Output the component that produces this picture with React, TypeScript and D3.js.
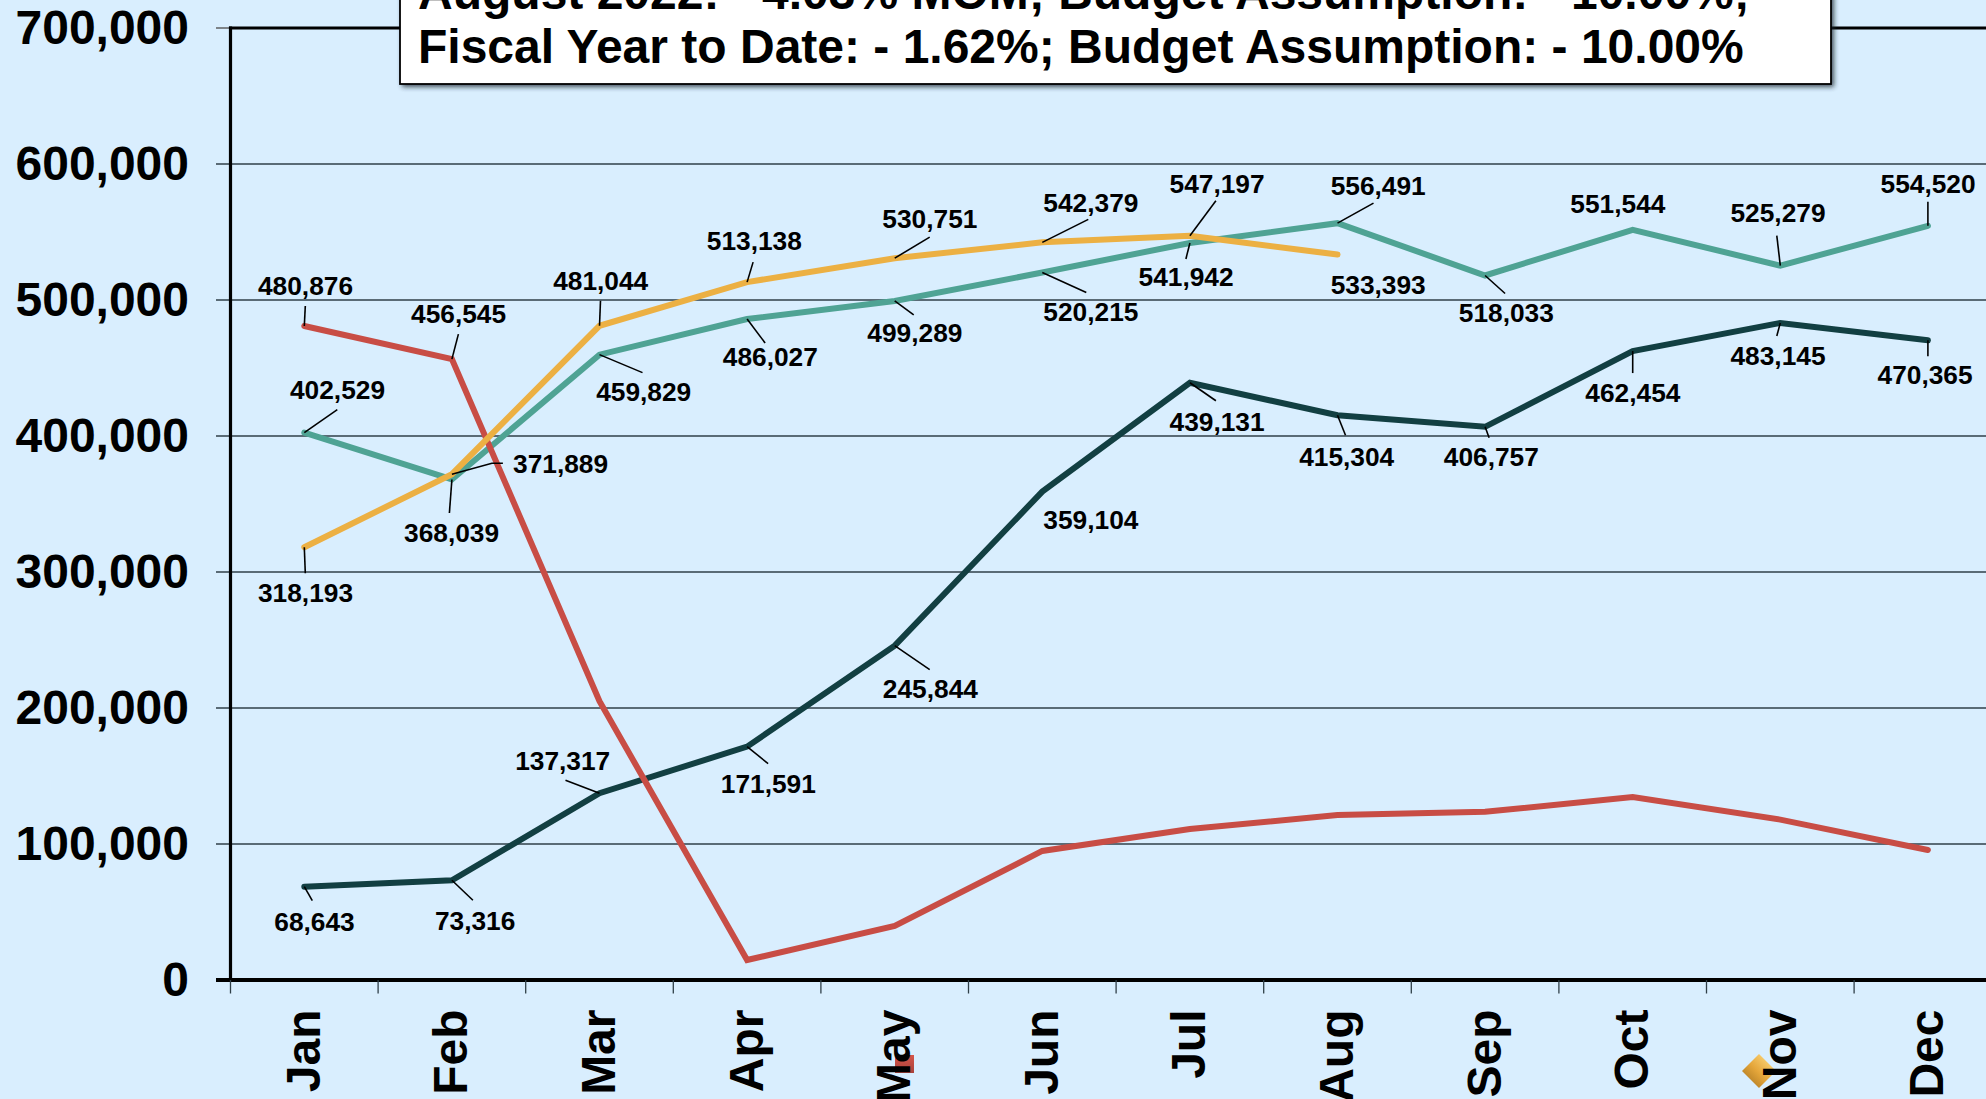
import React from "react";
import * as d3 from "d3";

const months = ["Jan","Feb","Mar","Apr","May","Jun","Jul","Aug","Sep","Oct","Nov","Dec"];
const yTicks = [0,100000,200000,300000,400000,500000,600000,700000];
const redValues = [480876,456545,205000,14700,39700,94900,111000,121300,123700,134500,117900,95600];
const tealValues = [402529,368039,459829,486027,499289,520215,541942,556491,518033,551544,525279,554520];
const goldValues = [318193,371889,481044,513138,530751,542379,547197,533393];
const darkValues = [68643,73316,137317,171591,245844,359104,439131,415304,406757,462454,483145,470365];
const boxLines = ["August 2022: - 4.03% MOM; Budget Assumption: - 10.00%;","Fiscal Year to Date: - 1.62%; Budget Assumption: - 10.00%"];

// label placement relative to the data point: [text dx, text dy, leader dx, leader dy, optional elbow dx, dy]
const redLabelOffsets: (number[] | null)[] = [[0,-39,1,-20],[5.5,-44,6.5,-25]];
const tealLabelOffsets: (number[] | null)[] = [[32,-41.6,33,-23],[-1.5,54.5,-2.5,33.5],[43,38,43,18],[22,39,18,24],[19,33,19,14],[47.4,40,44,20],[-5,35,-4,16],[39.5,-36,36,-20],[20,38.5,20,18],[-16,-25],[-3.5,-51.6,-3.5,-30],[-1,-41,0,-24]];
const goldLabelOffsets: (number[] | null)[] = [[0,47,1,26],[107.5,-9,51,-11,40,-11],[0,-44,1,-25],[6,-40.6,6,-20],[34,-38,35,-21],[47.4,-38.7,46,-23],[26,-51,26,-35],[39.5,31]];
const darkLabelOffsets: (number[] | null)[] = [[9,36,8,14],[22,41.6,21,20],[-38,-31,-34,-13],[20,38,21,17],[34.5,44,35,24],[47.4,29],[26,40,26,18],[8,43,8,20],[5,31,4,11],[-1,42.6,0,22],[-3.5,34,-3.5,13],[-4,36,0,16]];

const seriesList = [
  { values: tealValues, color: "#4fa394", offsets: tealLabelOffsets },
  { values: darkValues, color: "#123f42", offsets: darkLabelOffsets },
  { values: redValues, color: "#c84d45", offsets: redLabelOffsets },
  { values: goldValues, color: "#ecb043", offsets: goldLabelOffsets },
];

const W = 1986, H = 1099;
const FONT = "'Liberation Sans', Arial, sans-serif";
const fmt = d3.format(",");

export default function App() {
  const x = d3.scaleBand<string>().domain(months).range([230.5, 230.5 + 147.6 * 12]).paddingInner(0).paddingOuter(0);
  const y = d3.scaleLinear().domain([0, 700000]).range([980, 28]);
  const px = (i: number) => (x(months[i]) as number) + x.bandwidth() / 2;
  const line = d3.line<number>().x((_, i) => px(i)).y((v) => y(v));
  const boundaries = d3.range(0, 13).map((k) => 230.5 + x.step() * k);

  return (
    <svg width={W} height={H} viewBox={`0 0 ${W} ${H}`} style={{ position: "fixed", left: 0, top: 0, display: "block" }} fontFamily={FONT}>
      <defs>
        <filter id="boxShadow" x="-5%" y="-20%" width="110%" height="150%">
          <feGaussianBlur stdDeviation="2.5" />
        </filter>
        <linearGradient id="goldGrad" x1="0" y1="0" x2="0" y2="1">
          <stop offset="0" stopColor="#f5c766" />
          <stop offset="0.55" stopColor="#e5a63a" />
          <stop offset="1" stopColor="#c28a2c" />
        </linearGradient>
        <linearGradient id="redGrad" x1="0" y1="0" x2="0" y2="1">
          <stop offset="0" stopColor="#d5554a" />
          <stop offset="1" stopColor="#a8423a" />
        </linearGradient>
      </defs>
      <rect width={W} height={H} fill="#d9eefe" />

      {yTicks.slice(0, -1).map((t) => (
        <line key={t} x1={216} x2={W} y1={y(t)} y2={y(t)} stroke="#2f3f48" strokeWidth={1.4} />
      ))}
      <line x1={216} x2={231} y1={y(700000)} y2={y(700000)} stroke="#555" strokeWidth={1.4} />
      <line x1={229} x2={W} y1={y(700000)} y2={y(700000)} stroke="#000" strokeWidth={3} />
      <line x1={230.5} x2={230.5} y1={y(700000) - 1.5} y2={y(0)} stroke="#000" strokeWidth={3.2} />
      <line x1={216} x2={W} y1={y(0)} y2={y(0)} stroke="#000" strokeWidth={3.8} />
      {boundaries.map((b) => (
        <line key={b} x1={b} x2={b} y1={y(0)} y2={993.5} stroke="#2f3f48" strokeWidth={1.3} />
      ))}

      {yTicks.map((t) => (
        <text key={t} x={189} y={y(t) + 15.5} textAnchor="end" fontSize={48} fontWeight="bold" fill="#000">{fmt(t)}</text>
      ))}

      {/* stray legend markers that sit behind the month labels */}
      <rect x={895} y={1055} width={19} height={18} fill="url(#redGrad)" />
      <path d={d3.symbol().type(d3.symbolSquare).size(578)() as string} transform="translate(1759,1071) rotate(45)" fill="url(#goldGrad)" />

      {months.map((m, i) => (
        <text key={m} transform={`translate(${px(i) + 15.5},1009.5) rotate(-90)`} textAnchor="end" fontSize={48} fontWeight="bold" fill="#000">{m}</text>
      ))}

      {seriesList.map((s) => (
        <path key={s.color} d={line(s.values) as string} fill="none" stroke={s.color} strokeWidth={6} strokeLinejoin="miter" strokeLinecap="round" />
      ))}

      {seriesList.map((s) =>
        s.offsets.map((o, i) => {
          if (!o) return null;
          const cx = px(i), cy = y(s.values[i]);
          const pts: [number, number][] = [[cx, cy]];
          if (o.length > 4) pts.push([cx + o[4], cy + o[5]]);
          if (o.length > 2) pts.push([cx + o[2], cy + o[3]]);
          return (
            <g key={s.color + i}>
              {o.length > 2 && <path d={d3.line()(pts) as string} fill="none" stroke="#000" strokeWidth={1.6} />}
              <text x={cx + o[0] + 1.2} y={cy + o[1] + 8} textAnchor="middle" fontSize={26.3} fontWeight="bold" fill="#000">{fmt(s.values[i])}</text>
            </g>
          );
        })
      )}

      <rect x={402} y={-20} width={1432} height={107} fill="#1c2a33" opacity={0.8} filter="url(#boxShadow)" />
      <rect x={400} y={-20} width={1431} height={104} fill="#fff" stroke="#000" strokeWidth={1.8} />
      <text x={418} y={9} fontSize={48} fontWeight="bold" fill="#000">{boxLines[0]}</text>
      <text x={418} y={63} fontSize={48} fontWeight="bold" fill="#000">{boxLines[1]}</text>
    </svg>
  );
}
